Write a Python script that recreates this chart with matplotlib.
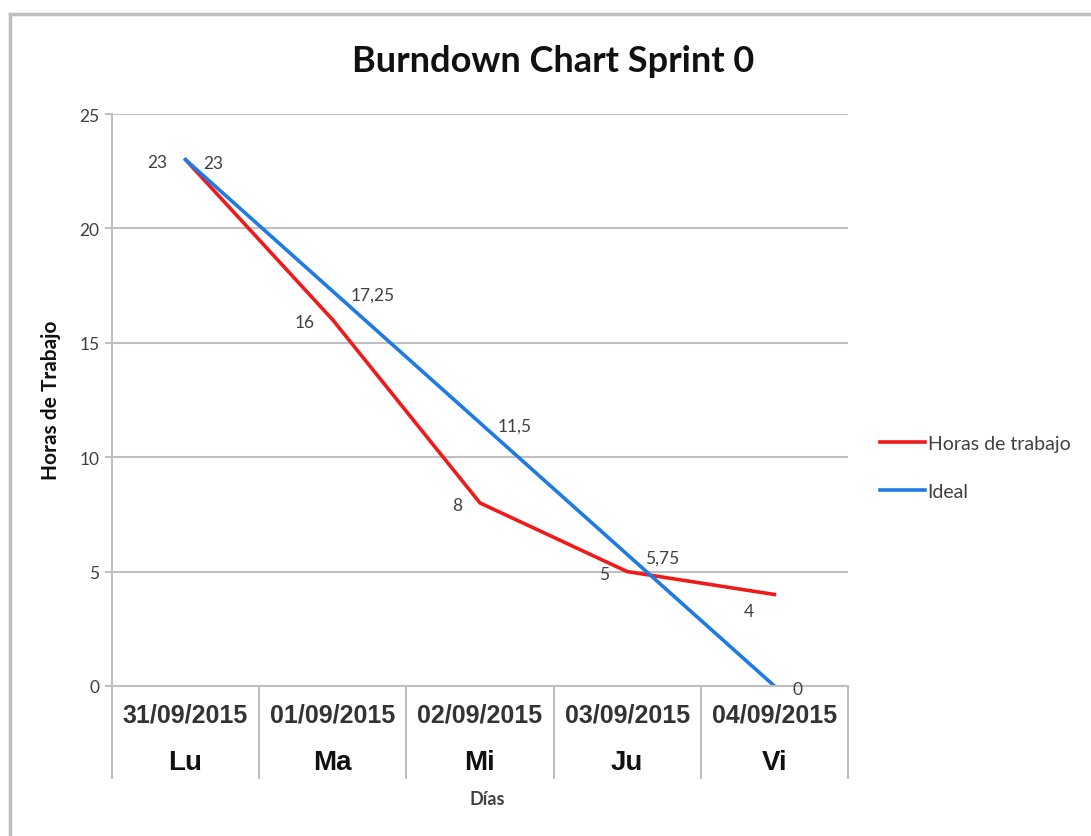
import matplotlib
matplotlib.use("Agg")
import matplotlib.pyplot as plt
from matplotlib.lines import Line2D

# data
dates = ["31/09/2015", "01/09/2015", "02/09/2015", "03/09/2015", "04/09/2015"]
days = ["Lu", "Ma", "Mi", "Ju", "Vi"]
horas = [23, 16, 8, 5, 4]
ideal = [23, 17.25, 11.5, 5.75, 0]

plt.rcParams['font.family'] = ['Lato', 'DejaVu Sans']

RED = "#F01A1A"
BLUE = "#1E7BE6"
GRID = "#BFBFBF"
TXT = "#404040"

fig = plt.figure(figsize=(10.91, 8.37), dpi=100)
ax = fig.add_axes([112/1091, 1-687/837, 736/1091, 572/837])

x = list(range(len(days)))
ax.plot(x, horas, color=RED, lw=2.6, label="Horas de trabajo")
ax.plot(x, ideal, color=BLUE, lw=2.6, label="Ideal")

def fmt(v):
    return f"{v:g}".replace(".", ",")

# data labels: red on the left, blue on the right
for i, v in enumerate(horas):
    dx, dy = -18, -2
    if i == len(horas) - 1:
        dx, dy = -20, -17
    ax.annotate(fmt(v), (i, v), xytext=(dx, dy), textcoords='offset pixels',
                ha='right', va='center', fontsize=12.5, color=TXT)
for i, v in enumerate(ideal):
    ax.annotate(fmt(v), (i, v), xytext=(18, -3), textcoords='offset pixels',
                ha='left', va='center', fontsize=12.5, color=TXT)

ax.set_xlim(-0.5, 4.5)
ax.set_ylim(0, 25)
ax.set_yticks([0, 5, 10, 15, 20, 25])
ax.yaxis.grid(True, color=GRID, lw=1.5)
ax.set_axisbelow(True)
for s in ['top', 'right']:
    ax.spines[s].set_visible(False)
for s in ['left', 'bottom']:
    ax.spines[s].set_color(GRID)
    ax.spines[s].set_linewidth(1.5)
ax.tick_params(axis='y', colors=GRID, labelcolor=TXT, labelsize=12.5, length=5, width=1.5, pad=4)

# category axis with two levels
ax.set_xticks(x)
ax.set_xticklabels(dates, fontfamily='Liberation Sans', fontweight='bold', fontsize=18, color="#333333")
ax.tick_params(axis='x', length=0, pad=12)
ax.set_xticks([i - 0.5 for i in range(len(days) + 1)], minor=True)
ax.tick_params(axis='x', which='minor', length=67, width=1.5, color=GRID)
for i, d in enumerate(days):
    ax.text(i, -76/572, d, transform=ax.get_xaxis_transform(), ha='center', va='center',
            fontfamily='Liberation Sans', fontweight='bold', fontsize=20, color="#111111")

fig.text(487/1091, 1-800/837, "Días", ha='center', va='center',
         fontsize=13, fontweight='bold', color=TXT)
fig.text(51/1091, 1-400/837, "Horas de Trabajo", ha='center', va='center', rotation=90,
         fontsize=15, fontweight='bold', color="#111111")

fig.text(553/1091, 1-62/837, "Burndown Chart Sprint 0", ha='center', va='center',
         fontsize=26, fontweight='bold', color="#111111")

fig.legend(loc='upper left', bbox_to_anchor=(880/1091, 1-436/837), frameon=False,
           fontsize=14, handlelength=2.3, handletextpad=0.15, labelspacing=1.6,
           borderpad=0, borderaxespad=0, labelcolor=TXT)

# outer chart frame
fig.add_artist(Line2D([10/1091, 10/1091], [0, 1-15/837], color=GRID, lw=2.5))
fig.add_artist(Line2D([10/1091, 1], [1-15/837, 1-15/837], color=GRID, lw=2.5))

fig.savefig("out.png", dpi=100)
